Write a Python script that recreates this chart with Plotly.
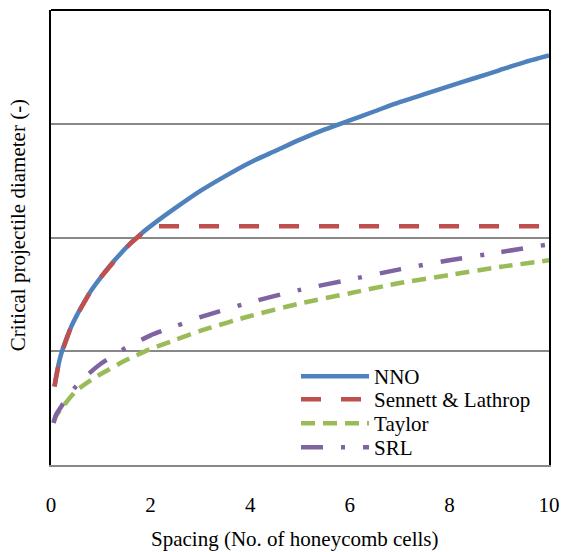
import plotly.graph_objects as go

# NNO
nno_x = [0.07, 0.1, 0.15, 0.2, 0.3, 0.4, 0.5, 0.65, 0.8, 1.0, 1.2, 1.4, 1.6, 1.8, 2.0, 2.5, 3.0, 3.5,
         4.0, 4.5, 5.0, 5.5, 6.0, 6.5, 7.0, 7.5, 8.0, 8.5, 9.0, 9.5, 10.0]
nno_y = [0.69, 0.77, 0.88, 0.97, 1.10, 1.21, 1.30, 1.42, 1.53, 1.65, 1.76, 1.86, 1.95, 2.03, 2.10, 2.26, 2.41, 2.54,
         2.66, 2.76, 2.86, 2.95, 3.03, 3.11, 3.19, 3.26, 3.33, 3.40, 3.47, 3.54, 3.60]

# Sennett & Lathrop
sl_x = [0.07, 0.1, 0.15, 0.2, 0.3, 0.4, 0.5, 0.65, 0.8, 1.0, 1.2, 1.4, 1.6, 1.8, 2.0, 10.0]
sl_y = [0.69, 0.77, 0.88, 0.97, 1.10, 1.21, 1.30, 1.42, 1.53, 1.65, 1.76, 1.86, 1.95, 2.03, 2.10, 2.10]

# Taylor
tay_x = [0.05, 0.1, 0.25, 0.5, 0.75, 1.0, 1.5, 2.0, 2.5, 3.0, 4.0, 5.0, 6.0, 7.0, 8.0, 9.0, 10.0]
tay_y = [0.37, 0.43, 0.52, 0.65, 0.73, 0.80, 0.92, 1.02, 1.10, 1.18, 1.31, 1.42, 1.51, 1.60, 1.67, 1.74, 1.80]

# SRL
srl_x = [0.05, 0.1, 0.2, 0.35, 0.5, 0.75, 1.0, 1.5, 2.0, 2.5, 3.0, 4.0, 5.0, 6.0, 7.0, 8.0, 9.0, 10.0]
srl_y = [0.37, 0.44, 0.51, 0.61, 0.69, 0.80, 0.89, 1.03, 1.14, 1.22, 1.30, 1.43, 1.54, 1.63, 1.72, 1.80, 1.87, 1.94]

x_ticks = [0, 2, 4, 6, 8, 10]
y_grid = [0, 1, 2, 3, 4]

FONT = "Times New Roman, Liberation Serif, DejaVu Serif, serif"
FS = 21

fig = go.Figure()
fig.add_trace(go.Scatter(x=nno_x, y=nno_y, name="NNO", mode="lines", legend="legend",
                         line=dict(color="#4F81BD", width=4.5, shape="spline", smoothing=0.6)))
fig.add_trace(go.Scatter(x=sl_x, y=sl_y, name="Sennett & Lathrop", mode="lines", legend="legend2",
                         line=dict(color="#C0504D", width=4.5, dash="20px,20px")))
fig.add_trace(go.Scatter(x=tay_x, y=tay_y, name="Taylor", mode="lines", legend="legend3",
                         line=dict(color="#9BBB59", width=4.5, dash="14px,8px", shape="spline", smoothing=0.6)))
fig.add_trace(go.Scatter(x=srl_x, y=srl_y, name="SRL", mode="lines", legend="legend4",
                         line=dict(color="#8064A2", width=4.5, dash="22px,18px,4px,18px", shape="spline", smoothing=0.6)))

def leg(ytop):
    return dict(x=0.492, y=ytop, xanchor="left", yanchor="top",
                bgcolor="rgba(0,0,0,0)", font=dict(family=FONT, size=FS),
                itemwidth=68, tracegroupgap=0)

fig.update_layout(
    width=564, height=552,
    margin=dict(l=51, r=15, t=10, b=87, autoexpand=False),
    paper_bgcolor="white", plot_bgcolor="white",
    font=dict(family=FONT, size=FS, color="black"),
    showlegend=True,
    legend=leg(0.2396), legend2=leg(0.189), legend3=leg(0.1363), legend4=leg(0.0835),
    xaxis=dict(range=[0, 10], tickvals=x_ticks, ticks="", showgrid=False,
               showline=True, linecolor="#888888", linewidth=1.5, zeroline=False,
               tickfont=dict(family=FONT, size=FS), ticklabelstandoff=20,
               ticklabeloverflow="allow", automargin=False),
    yaxis=dict(range=[0, 4], tickvals=y_grid, showticklabels=False, ticks="",
               showgrid=True, gridcolor="#888888", gridwidth=1.5, automargin=False,
               showline=True, linecolor="black", linewidth=2, mirror=True, zeroline=False),
    shapes=[dict(type="line", xref="paper", yref="paper", x0=0, x1=1, y0=1, y1=1,
                 line=dict(color="black", width=2))],
    annotations=[
        dict(text="Critical projectile diameter (-)", xref="paper", yref="paper",
             x=-0.066, y=0.527, textangle=-90, showarrow=False,
             xanchor="center", yanchor="middle", font=dict(family=FONT, size=FS)),
        dict(text="Spacing (No. of honeycomb cells)", xref="paper", yref="paper",
             x=0.49, y=-0.163, showarrow=False,
             xanchor="center", yanchor="middle", font=dict(family=FONT, size=FS)),
    ],
)

fig.write_html("out.html", config={"displayModeBar": False},
               post_script="document.body.style.margin='0';")
